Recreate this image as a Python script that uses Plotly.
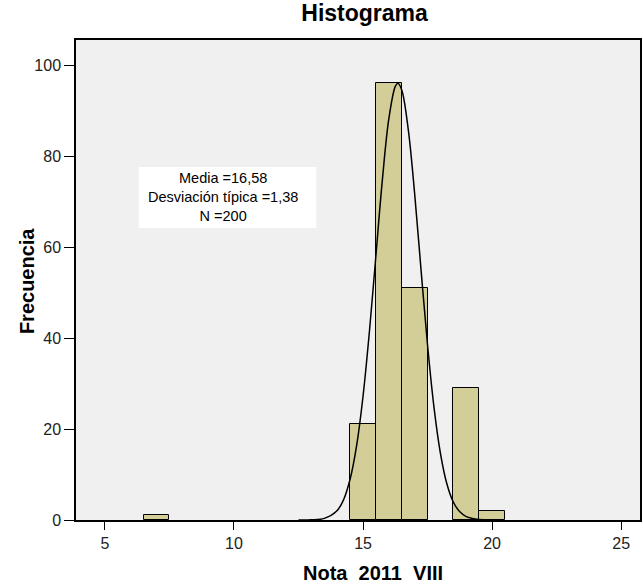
import plotly.graph_objects as go

# histogram bins (centre of each 1-point bin) and counts
bin_centres = [7, 15, 16, 17, 19, 20]
counts = [1, 21, 96, 51, 29, 2]

# normal curve as drawn on the chart
curve_x = [12.5, 13.0, 13.5, 14.0, 14.25, 14.5, 14.75, 15.0, 15.25, 15.5, 15.75,
           16.0, 16.25, 16.35, 16.5, 16.75, 17.0, 17.25, 17.5, 17.75, 18.0,
           18.25, 18.5, 18.75, 19.0, 19.5, 20.0]
curve_y = [0.0, 0.04, 0.35, 2.1, 4.5, 9.0, 16.3, 27.2, 41.6, 58.2, 74.8,
           88.2, 95.3, 96.0, 94.5, 85.9, 71.7, 54.8, 38.4, 24.7, 14.6,
           7.9, 3.9, 1.8, 0.75, 0.1, 0.0]

stats_lines = ["Media =16,58", "Desviación típica =1,38", "N =200"]
x_ticks = [5, 10, 15, 20, 25]
y_ticks = [0, 20, 40, 60, 80, 100]

fnt = "Liberation Sans, Arial, sans-serif"

fig = go.Figure()
fig.add_trace(go.Bar(x=bin_centres, y=counts, width=1,
                     marker=dict(color="#d3ce97", line=dict(color="black", width=1)),
                     showlegend=False, hoverinfo="x+y"))
fig.add_trace(go.Scatter(x=curve_x, y=curve_y, mode="lines", line_shape="spline",
                         line=dict(color="black", width=1.5), showlegend=False))

# white stats box
fig.add_shape(type="rect", xref="x", yref="y", x0=6.31, x1=13.19, y0=64.2, y1=77.6,
              fillcolor="white", line=dict(width=0), layer="above")
fig.add_annotation(x=9.56, y=71.0, xref="x", yref="y", text="<br>".join(stats_lines),
                   showarrow=False, align="center",
                   font=dict(family=fnt, size=14.5, color="black"))

# axis titles as annotations so they can sit where the original puts them
fig.add_annotation(x=0.5265, y=-0.0833, xref="paper", yref="paper",
                   text="<b>Nota  2011  VIII</b>", showarrow=False,
                   font=dict(family=fnt, size=20, color="black"), yanchor="top")
fig.add_annotation(x=-0.0866, y=0.498, xref="paper", yref="paper",
                   text="<b>Frecuencia</b>", textangle=-90, showarrow=False,
                   font=dict(family=fnt, size=20, color="black"), xanchor="center")

fig.update_xaxes(range=[3.88, 25.73], tickvals=x_ticks, ticks="outside", ticklen=8,
                 tickcolor="black", showline=True, linecolor="black", linewidth=1.5,
                 mirror=True, showgrid=False, zeroline=False,
                 tickfont=dict(family=fnt, size=16, color="#222"))
fig.update_yaxes(range=[0, 105.5], tickvals=y_ticks, ticks="outside", ticklen=10,
                 tickcolor="black", showline=True, linecolor="black", linewidth=1.5,
                 mirror=True, showgrid=False, zeroline=False,
                 tickfont=dict(family=fnt, size=16, color="#222"))

fig.update_layout(
    width=643, height=585,
    margin=dict(l=76, r=1, t=40, b=65),
    plot_bgcolor="#f0f0f0", paper_bgcolor="white",
    bargap=0,
    title=dict(text="<b>Histograma</b>", x=0.567, xanchor="center",
               y=0.9915, yanchor="top",
               font=dict(family=fnt, size=23, color="black")),
)

# drop the default 8px body margin so the figure fills the window exactly
fig.write_html("out.html", config={"displayModeBar": False},
               post_script="document.body.style.margin='0';")
